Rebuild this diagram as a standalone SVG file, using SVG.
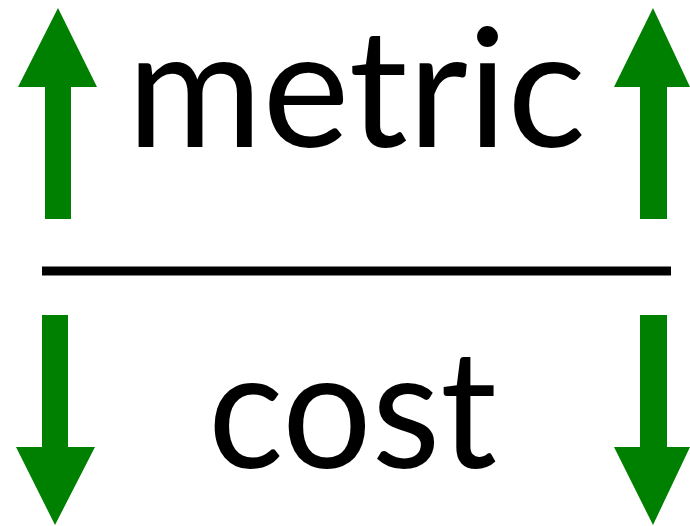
<svg xmlns="http://www.w3.org/2000/svg" width="690" height="526" viewBox="0 0 690 526">
<style>
.arrow{fill:#008000}
.lbl{font-family:Lato,"Open Sans","Liberation Sans",sans-serif;font-size:164px;fill:#000}
</style>
<rect width="690" height="526" fill="#fff"/>
<g id="metric"><text class="lbl" x="127" y="147" textLength="459" lengthAdjust="spacingAndGlyphs">metric</text></g>
<g id="cost"><text class="lbl" x="208" y="468" textLength="289" lengthAdjust="spacingAndGlyphs">cost</text></g>
<g id="divider"><rect x="42" y="266.5" width="629" height="9" fill="#000"/></g>
<g id="connectors">
<polygon class="arrow" points="58,8 97,87 71,87 71,219 45,219 45,87 18,87"/>
<polygon class="arrow" points="653,8 690,87 667,87 667,219 640,219 640,87 614,87"/>
<polygon class="arrow" points="42,315 68,315 68,447 95,447 55,525 16,447 42,447"/>
<polygon class="arrow" points="640,315 667,315 667,447 690,447 653,525 614,447 640,447"/>
</g>
</svg>
